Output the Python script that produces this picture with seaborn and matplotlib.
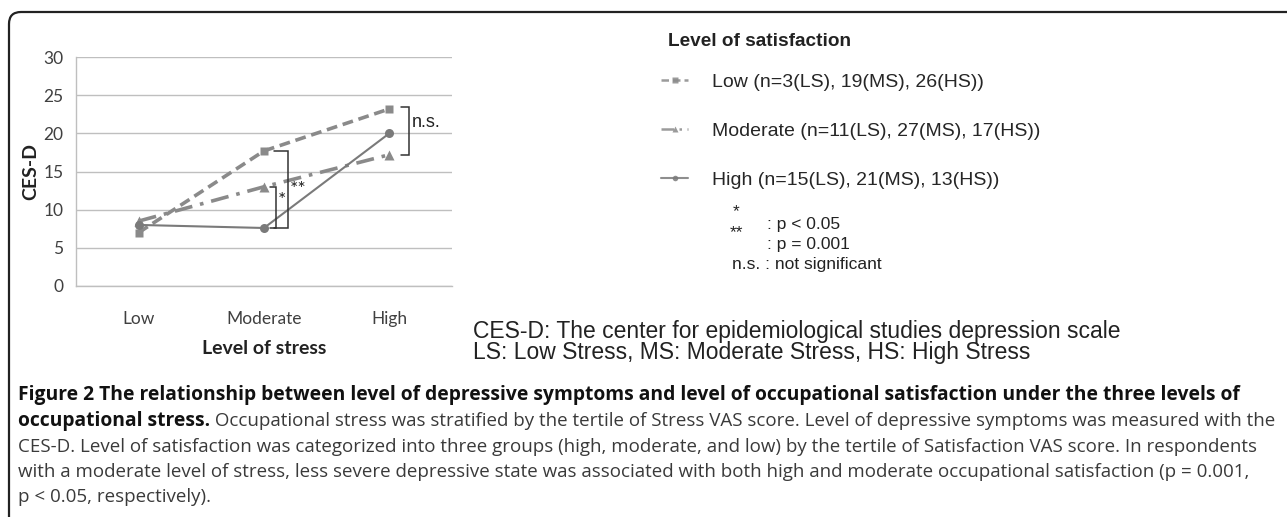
import matplotlib
matplotlib.use("Agg")
import matplotlib.pyplot as plt
from matplotlib.patches import FancyBboxPatch
from matplotlib.transforms import IdentityTransform
from matplotlib import font_manager
import seaborn as sns
import pandas as pd

# data
stress_levels = ["Low", "Moderate", "High"]
sat_low = [7.0, 17.7, 23.2]
sat_moderate = [8.5, 13.0, 17.2]
sat_high = [8.0, 7.6, 20.0]
series_names = ["Low", "Moderate", "High"]
legend_labels = [
    "Low (n=3(LS), 19(MS), 26(HS))",
    "Moderate (n=11(LS), 27(MS), 17(HS))",
    "High (n=15(LS), 21(MS), 13(HS))",
]
y_ticks = [0, 5, 10, 15, 20, 25, 30]

caption_lines = [
    [("Figure 2 The relationship between level of depressive symptoms and level of occupational "
      "satisfaction under the three levels of", "bold")],
    [("occupational stress.", "bold"),
     (" Occupational stress was stratified by the tertile of Stress VAS score. Level of depressive "
      "symptoms was measured with the", "normal")],
    [("CES-D. Level of satisfaction was categorized into three groups (high, moderate, and low) by "
      "the tertile of Satisfaction VAS score. In respondents", "normal")],
    [("with a moderate level of stress, less severe depressive state was associated with both high "
      "and moderate occupational satisfaction (p = 0.001,", "normal")],
    [("p < 0.05, respectively).", "normal")],
]

W, H = 1287, 517
sns.set_style("white")


def has_font(name):
    try:
        font_manager.findfont(name, fallback_to_default=False)
        return True
    except ValueError:
        return False


excel_font = "Lato" if has_font("Lato") else "DejaVu Sans"
arial = "Liberation Sans"
caption_font = "Liberation Sans Narrow" if has_font("Liberation Sans Narrow") else "Open Sans"

fig = plt.figure(figsize=(W / 100, H / 100), dpi=100)
fig.patch.set_facecolor("white")


def fx(x):
    return x / W


def fy(y):
    return 1 - y / H


ax = fig.add_axes([fx(76), fy(286), (452 - 76) / W, (286 - 57) / H])

df = pd.DataFrame({
    "stress": stress_levels * 3,
    "cesd": sat_low + sat_moderate + sat_high,
    "sat": [s for s in series_names for _ in stress_levels],
})

styles = {
    "Low": dict(color="#8a8a8a", lw=2.6, linestyle=(0, (3, 1.6)), marker="s", ms=6),
    "Moderate": dict(color="#8a8a8a", lw=2.6, linestyle=(0, (5, 2.2, 1, 2.2)), marker="^", ms=6.5),
    "High": dict(color="#7a7a7a", lw=1.5, linestyle="-", marker="o", ms=6.5),
}
for name, lab in zip(series_names, legend_labels):
    sub = df[df.sat == name]
    sns.lineplot(data=sub, x="stress", y="cesd", ax=ax, label=lab, mec="none", **styles[name])

handles, labels = ax.get_legend_handles_labels()
if ax.get_legend() is not None:
    ax.get_legend().remove()

ax.set_xlim(-0.5, 2.5)
ax.set_ylim(0, 30)
ax.set_yticks(y_ticks)
ax.yaxis.grid(True, color="#bfbfbf", lw=1)
ax.xaxis.grid(False)
for side in ["top", "right"]:
    ax.spines[side].set_visible(False)
for side in ["left", "bottom"]:
    ax.spines[side].set_color("#bfbfbf")
    ax.spines[side].set_linewidth(1)
ax.tick_params(axis="y", length=5, color="#bfbfbf", pad=4, labelsize=12.5, labelcolor="#404040")
ax.tick_params(axis="x", length=0, pad=18, labelsize=12.5, labelcolor="#404040")
for t in ax.get_xticklabels() + ax.get_yticklabels():
    t.set_family(excel_font)
ax.set_xlabel("Level of stress", family=excel_font, weight="bold", size=14, color="#222222", labelpad=9)
ax.set_ylabel("CES-D", family=excel_font, weight="bold", size=14, color="#222222", labelpad=3)

# significance brackets
def bracket(x, y0, y1, tick, lw=1.1):
    ax.plot([x - tick, x, x, x - tick], [y0, y0, y1, y1], color="#333333", lw=lw, solid_joinstyle="miter")


bracket(1.095, sat_high[1], sat_moderate[1], 0.045)
bracket(1.19, sat_high[1], sat_low[1], 0.11)
bracket(2.16, sat_moderate[2], sat_low[2] + 0.3, 0.07)
ax.text(1.11, 11.2, "*", family=excel_font, size=14, color="#222222", va="center", ha="left")
ax.text(1.205, 12.6, "**", family=excel_font, size=14, color="#222222", va="center", ha="left")
ax.text(2.18, 21.4, "n.s.", family=arial, size=13, color="#222222", va="center", ha="left")

# legend on the right
fig.text(fx(668), fy(42), "Level of satisfaction", family=arial, weight="bold", size=13.7,
         color="#222222", va="center", ha="left")
leg = fig.legend(handles, labels, loc="center left", bbox_to_anchor=(fx(661), fy(131)),
                 frameon=False, borderpad=0, borderaxespad=0, handlelength=1.4, handletextpad=1.2,
                 labelspacing=1.6, prop={"family": arial, "size": 14})
for line in leg.get_lines():
    line.set_linewidth(min(line.get_linewidth(), 1.8))
    line.set_markersize(4)
    line.set_alpha(0.85)

tc = "#222222"
fig.text(fx(733), fy(212), "*", family=arial, size=12.5, color=tc, va="center", ha="left")
fig.text(fx(767), fy(225), ": p < 0.05", family=arial, size=12.5, color=tc, va="center", ha="left")
fig.text(fx(730), fy(233), "**", family=arial, size=12.5, color=tc, va="center", ha="left")
fig.text(fx(767), fy(245), ": p = 0.001", family=arial, size=12.5, color=tc, va="center", ha="left")
fig.text(fx(732), fy(265), "n.s. : not significant", family=arial, size=12.5, color=tc, va="center", ha="left")

fig.text(fx(473), fy(342),
         "CES-D: The center for epidemiological studies depression scale\n"
         "LS: Low Stress, MS: Moderate Stress, HS: High Stress",
         family=arial, size=16.5, color=tc, va="center", ha="left", linespacing=0.93)

# caption, font size fitted to the printed line widths
fig.canvas.draw()
renderer = fig.canvas.get_renderer()


def fit_size(text, weight, target_px, start=12.0):
    t = fig.text(0, 0, text, family=caption_font, weight=weight, size=start)
    w = t.get_window_extent(renderer).width
    t.remove()
    return start * target_px / w


bold_size = fit_size(caption_lines[0][0][0], "bold", 1236 - 18)
norm_size = fit_size(caption_lines[2][0][0], "normal", 1252 - 18)

line_y = [395, 421, 447, 472, 497]
for parts, y in zip(caption_lines, line_y):
    x = fx(18)
    for text, weight in parts:
        size = bold_size if weight == "bold" else norm_size
        color = "#111111" if weight == "bold" else "#3a3a3a"
        t = fig.text(x, fy(y), text, family=caption_font, weight=weight, size=size,
                     color=color, va="center", ha="left")
        bb = t.get_window_extent(renderer)
        x = fig.transFigure.inverted().transform((bb.x1, 0))[0]

# rounded frame, only its top-left corner is inside the picture
frame = FancyBboxPatch((9, -40), W + 40, H - 12 + 40, boxstyle="round,pad=0,rounding_size=12",
                       transform=IdentityTransform(), fill=False, ec="#222222", lw=1.6)
fig.add_artist(frame)

fig.savefig("out.png", dpi=100)
